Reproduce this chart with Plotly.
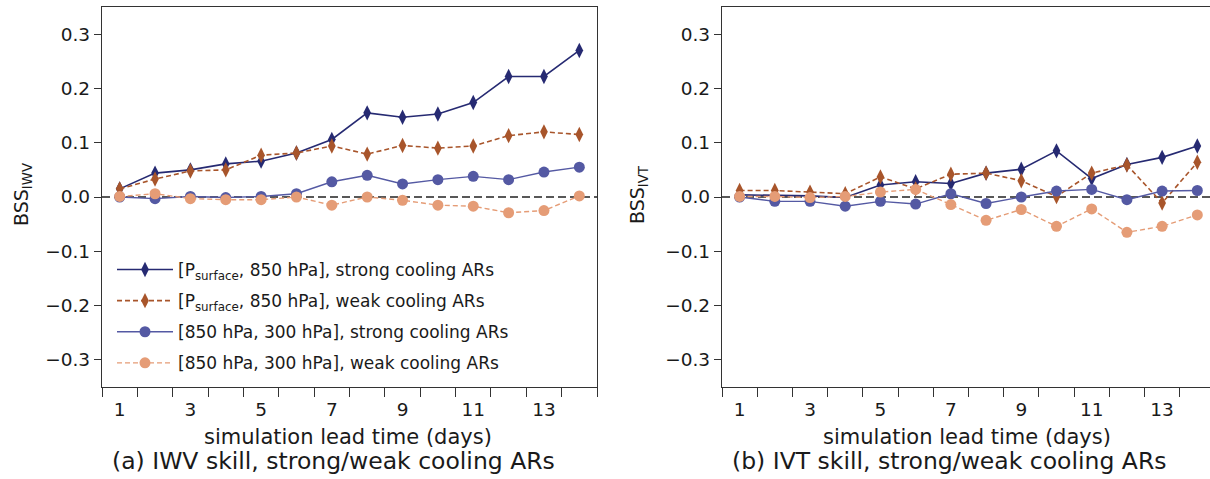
import plotly.graph_objects as go

days = list(range(1, 15))
xtick_vals = [1, 3, 5, 7, 9, 11, 13]
xtick_text = ["1", "3", "5", "7", "9", "11", "13"]
ytick_vals = [-0.3, -0.2, -0.1, 0.0, 0.1, 0.2, 0.3]
ytick_text = ["\u22120.3", "\u22120.2", "\u22120.1", "0.0", "0.1", "0.2", "0.3"]

series_names = [
    "[P<sub>surface</sub>, 850 hPa], strong cooling ARs",
    "[P<sub>surface</sub>, 850 hPa], weak cooling ARs",
    "[850 hPa, 300 hPa], strong cooling ARs",
    "[850 hPa, 300 hPa], weak cooling ARs",
]

# (a) IWV
iwv_psfc_strong = [0.015, 0.044, 0.050, 0.061, 0.066, 0.081, 0.106, 0.155, 0.147, 0.153, 0.174, 0.222, 0.222, 0.270]
iwv_psfc_weak = [0.015, 0.033, 0.048, 0.050, 0.077, 0.081, 0.094, 0.079, 0.095, 0.090, 0.094, 0.113, 0.120, 0.115]
iwv_850_strong = [0.000, -0.003, 0.001, -0.001, 0.001, 0.006, 0.028, 0.040, 0.024, 0.032, 0.038, 0.032, 0.046, 0.055]
iwv_850_weak = [0.001, 0.006, -0.003, -0.005, -0.005, 0.000, -0.015, 0.000, -0.006, -0.015, -0.017, -0.029, -0.025, 0.002]

# (b) IVT
ivt_psfc_strong = [0.004, 0.003, 0.002, -0.001, 0.022, 0.028, 0.025, 0.044, 0.051, 0.085, 0.034, 0.060, 0.073, 0.094]
ivt_psfc_weak = [0.012, 0.012, 0.009, 0.006, 0.037, 0.015, 0.042, 0.044, 0.030, 0.001, 0.044, 0.059, -0.011, 0.064]
ivt_850_strong = [0.000, -0.008, -0.008, -0.017, -0.008, -0.013, 0.006, -0.012, 0.000, 0.011, 0.014, -0.005, 0.011, 0.012]
ivt_850_weak = [0.001, 0.001, -0.001, 0.001, 0.009, 0.014, -0.014, -0.043, -0.023, -0.054, -0.022, -0.065, -0.054, -0.033]

colors = ["#262a72", "#a8552b", "#5459a3", "#e59c76"]
dashes = ["solid", "5px,3px", "solid", "5px,3px"]
symbols = ["diamond-tall", "diamond-tall", "circle", "circle"]
msizes = [11, 11, 11, 11]
lwidths = [1.6, 1.6, 1.4, 1.4]

W, H = 1210, 479
FONT = "DejaVu Sans"
TXT = "#1a1a1a"

fig = go.Figure()

panels = [
    ("x", "y", [iwv_psfc_strong, iwv_psfc_weak, iwv_850_strong, iwv_850_weak], True),
    ("x2", "y2", [ivt_psfc_strong, ivt_psfc_weak, ivt_850_strong, ivt_850_weak], False),
]
for xa, ya, data, show in panels:
    for i, vals in enumerate(data):
        fig.add_trace(go.Scatter(
            x=days, y=vals, xaxis=xa, yaxis=ya,
            mode="lines+markers", name=series_names[i],
            legendgroup="g%d" % i, showlegend=show,
            line=dict(color=colors[i], width=lwidths[i], dash=dashes[i]),
            marker=dict(symbol=symbols[i], size=msizes[i], color=colors[i],
                        line=dict(width=0)),
        ))

plot_top = 7
plot_bot = 387
ph = plot_bot - plot_top

axis_common = dict(
    showgrid=False, zeroline=False, showline=True, linecolor="#333333", linewidth=1.3,
    tickfont=dict(family=FONT, size=18.5, color=TXT),
)
xcommon = dict(
    axis_common,
    tickmode="array", tickvals=xtick_vals, ticktext=xtick_text,
    ticks="outside", ticklen=6, tickcolor="rgba(0,0,0,0)",
    minor=dict(tick0=0.5, dtick=1, ticks="outside", ticklen=9, tickwidth=1.3, tickcolor="#333333"),
)
ycommon = dict(
    axis_common,
    range=[-0.35, 0.35],
    tickmode="array", tickvals=ytick_vals, ticktext=ytick_text,
    ticks="outside", ticklen=7, tickwidth=1.3, tickcolor="#333333",
)

fig.update_layout(
    width=W, height=H,
    margin=dict(l=0, r=0, t=plot_top, b=H - plot_bot, pad=0),
    paper_bgcolor="white", plot_bgcolor="white",
    xaxis=dict(xcommon, domain=[102 / W, 597 / W], range=[0.5, 14.5], mirror=True, anchor="y"),
    yaxis=dict(ycommon, domain=[0, 1], mirror=True, anchor="x"),
    xaxis2=dict(xcommon, domain=[722 / W, 1.0], range=[0.5, 14.36], mirror=True, anchor="y2"),
    yaxis2=dict(ycommon, domain=[0, 1], mirror=False, anchor="x2"),
    showlegend=True,
    legend=dict(
        x=112 / W, y=(plot_bot - 252) / ph, xanchor="left", yanchor="top",
        bgcolor="rgba(0,0,0,0)", borderwidth=0,
        font=dict(family=FONT, size=17, color=TXT),
        tracegroupgap=6, itemwidth=56,
    ),
)

# zero reference lines
for xr, yr in [("x domain", "y"), ("x2 domain", "y2")]:
    fig.add_shape(type="line", xref=xr, yref=yr, x0=0, x1=1, y0=0, y1=0,
                  line=dict(color="#222222", width=1.6, dash="8px,4px"), layer="below")

def py(pix):
    return (plot_bot - pix) / ph

annos = [
    dict(text="simulation lead time (days)", x=348 / W, y=py(437), size=21),
    dict(text="(a) IWV skill, strong/weak cooling ARs", x=333 / W, y=py(461), size=23.5),
    dict(text="simulation lead time (days)", x=967 / W, y=py(437), size=21),
    dict(text="(b) IVT skill, strong/weak cooling ARs", x=949 / W, y=py(461), size=23.5),
]
for a in annos:
    fig.add_annotation(text=a["text"], x=a["x"], y=a["y"], xref="paper", yref="paper",
                       xanchor="center", yanchor="middle", showarrow=False,
                       font=dict(family=FONT, size=a["size"], color=TXT))

for txt, xp in [("BSS<sub>IWV</sub>", 22), ("BSS<sub>IVT</sub>", 638)]:
    fig.add_annotation(text=txt, x=xp / W, y=py(195), xref="paper", yref="paper",
                       xanchor="center", yanchor="middle", showarrow=False, textangle=-90,
                       font=dict(family=FONT, size=19, color=TXT))

fig.write_html("out.html", config={"displayModeBar": False},
               post_script="document.body.style.margin='0';document.body.style.overflow='hidden';")
